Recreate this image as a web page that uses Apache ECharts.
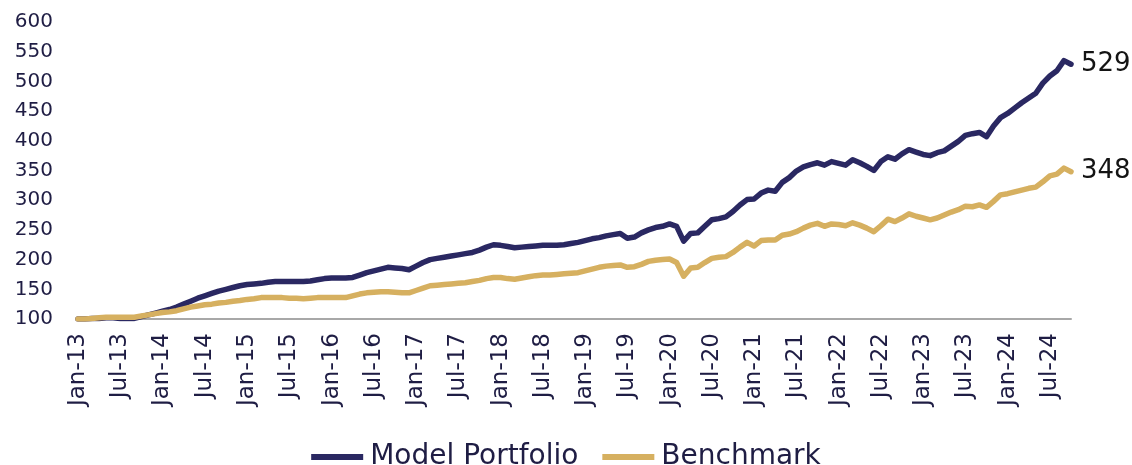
<!DOCTYPE html>
<html>
<head>
<meta charset="utf-8">
<script src="https://cdn.jsdelivr.net/npm/echarts@6/dist/echarts.min.js"></script>
<style>
  html, body { margin: 0; padding: 0; background: #ffffff; }
  #chart { width: 1132px; height: 465px; }
</style>
</head>
<body>
<div id="chart"></div>
<script>
// Monthly index values, Jan-13 to Oct-24 (base = 100)
const monthNames = ['Jan','Feb','Mar','Apr','May','Jun','Jul','Aug','Sep','Oct','Nov','Dec'];
const firstYear = 2013;
const monthCount = 142;

const categories = [];
for (let i = 0; i < monthCount; i++) {
  const y = firstYear + Math.floor(i / 12);
  categories.push(monthNames[i % 12] + '-' + String(y).slice(2));
}

const seriesNames = ['Model Portfolio', 'Benchmark'];

const modelPortfolio = [
  100,100,101,101,102,102,101,101,101,104,107,110,
  113,116,120,125,130,135,139,143,147,150,153,156,
  158,159,160,162,163,163,163,163,163,164,166,168,
  169,169,169,170,174,178,181,184,187,186,185,183,
  189,195,200,202,204,206,208,210,212,216,221,225,
  224,222,220,221,222,223,224,224,224,225,227,229,
  232,235,237,240,242,244,236,238,245,250,254,256,
  260,256,231,244,245,256,267,269,272,281,292,301,
  302,312,317,315,330,338,349,356,360,363,359,365,
  362,359,368,363,357,350,365,373,369,378,385,381,
  377,375,380,383,391,399,409,412,414,407,425,439,
  446,455,464,472,480,497,509,518,535,529
];

const benchmark = [
  100,100,101,102,103,103,103,103,103,105,107,109,
  111,112,114,117,120,122,124,125,127,128,130,131,
  133,134,136,136,136,136,135,135,134,135,136,136,
  136,136,136,139,142,144,145,146,146,145,144,144,
  148,152,156,157,158,159,160,161,163,165,168,170,
  170,168,167,169,171,173,174,174,175,176,177,178,
  181,184,187,189,190,191,187,188,192,197,199,200,
  201,195,172,186,187,195,202,204,205,212,221,229,
  223,232,233,233,241,243,247,253,258,261,256,260,
  259,257,262,258,253,247,257,268,264,270,277,273,
  270,267,270,275,280,284,290,289,292,288,298,309,
  311,314,317,320,322,331,341,344,354,348
];

const yTicks = { min: 100, max: 600, step: 50 };

const navy = '#2a2862';
const gold = '#d6b060';
const textColor = '#1f1d44';
const fontFamily = '"DejaVu Sans", sans-serif';

const chart = echarts.init(document.getElementById('chart'), null, { renderer: 'canvas' });

function lineSeries(name, data, color) {
  return {
    name: name,
    type: 'line',
    data: data,
    symbol: 'none',
    smooth: false,
    lineStyle: { color: color, width: 5.5, join: 'round', cap: 'round' },
    itemStyle: { color: color },
    endLabel: {
      show: true,
      formatter: function (p) { return String(p.value); },
      distance: 10,
      color: '#141414',
      fontSize: 26,
      fontFamily: fontFamily
    },
    emphasis: { disabled: true },
    animation: false
  };
}

chart.setOption({
  animation: false,
  backgroundColor: '#ffffff',
  grid: { left: 78, right: 61, top: 22, bottom: 146, containLabel: false },
  legend: {
    data: [
      { name: seriesNames[0], icon: 'rect', itemStyle: { color: navy } },
      { name: seriesNames[1], icon: 'rect', itemStyle: { color: gold } }
    ],
    top: 438,
    left: 'center',
    itemWidth: 52,
    itemHeight: 6,
    itemGap: 24,
    textStyle: { fontSize: 28, color: textColor, fontFamily: fontFamily, padding: [0, 0, 0, 2] }
  },
  xAxis: {
    type: 'category',
    data: categories,
    boundaryGap: false,
    axisLine: { show: true, lineStyle: { color: '#a8a8a8', width: 2 } },
    axisTick: { show: false },
    splitLine: { show: false },
    axisLabel: {
      interval: 5,
      rotate: 90,
      margin: 14,
      fontSize: 23,
      color: textColor,
      fontFamily: fontFamily
    }
  },
  yAxis: {
    type: 'value',
    min: yTicks.min,
    max: yTicks.max,
    interval: yTicks.step,
    axisLine: { show: false },
    axisTick: { show: false },
    splitLine: { show: false },
    axisLabel: {
      margin: 25,
      fontSize: 20,
      color: textColor,
      fontFamily: fontFamily
    }
  },
  series: [
    lineSeries(seriesNames[0], modelPortfolio, navy),
    lineSeries(seriesNames[1], benchmark, gold)
  ]
});
</script>
</body>
</html>
